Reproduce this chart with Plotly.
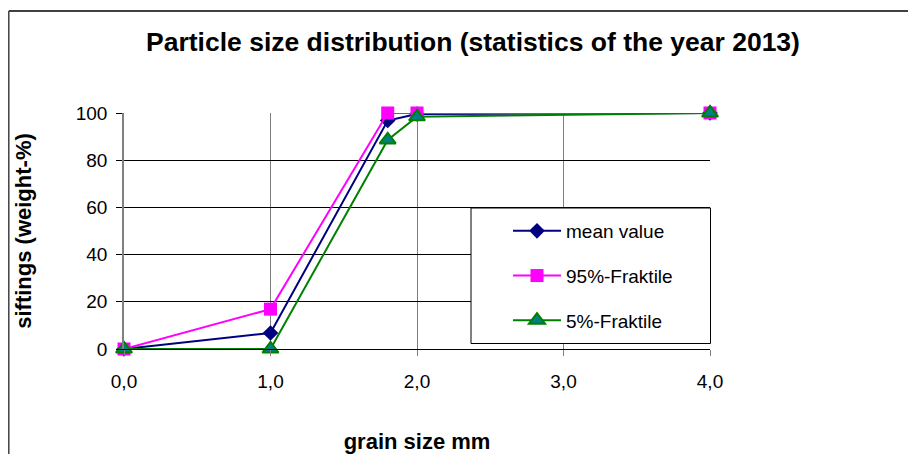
import plotly.graph_objects as go

# ---- data ----
grain_size = [0.0, 1.0, 1.8, 2.0, 4.0]
mean_value = [0.0, 6.8, 96.8, 99.6, 100.0]
fraktile_95 = [0.0, 16.9, 100.0, 100.0, 100.0]
fraktile_5 = [0.0, 0.0, 88.6, 98.4, 100.0]
x_tick_vals = [0, 1, 2, 3, 4]
x_tick_text = ["0,0", "1,0", "2,0", "3,0", "4,0"]
y_tick_vals = [0, 20, 40, 60, 80, 100]

# the page body has an 8px margin, so the figure is laid out in
# reference-pixel coordinates minus that offset
OFF = 8
W, H = 916 - OFF, 454 - OFF
ML, MR, MT, MB = 116, 206, 105, 105
PW, PH = W - ML - MR, H - MT - MB
FONT = "Liberation Sans, Arial, sans-serif"


def px_x(px):
    return (px - OFF - ML) / PW


def px_y(py):
    return (H - MB - (py - OFF)) / PH


fig = go.Figure()
fig.add_trace(go.Scatter(
    x=grain_size, y=mean_value, name="mean value", mode="lines+markers",
    line=dict(color="#000080", width=2),
    marker=dict(symbol="diamond", size=12, color="#000080"),
    legendgroup="a", cliponaxis=False))
fig.add_trace(go.Scatter(
    x=grain_size, y=fraktile_95, name="95%-Fraktile", mode="lines+markers",
    line=dict(color="#FF00FF", width=2),
    marker=dict(symbol="square", size=13, color="#FF00FF"),
    legendgroup="b", cliponaxis=False))
fig.add_trace(go.Scatter(
    x=grain_size, y=fraktile_5, name="5%-Fraktile", mode="lines+markers",
    line=dict(color="#008000", width=2),
    marker=dict(symbol="triangle-up", size=14, color="#008080",
                line=dict(color="#008000", width=2)),
    legendgroup="c", cliponaxis=False))

shapes = [
    # outer frame lines
    dict(type="line", xref="paper", yref="paper", x0=px_x(8.8), x1=px_x(916),
         y0=px_y(11), y1=px_y(11), line=dict(color="#404040", width=2), layer="above"),
    dict(type="line", xref="paper", yref="paper", x0=px_x(8.8), x1=px_x(8.8),
         y0=px_y(11), y1=px_y(454), line=dict(color="#404040", width=1.5), layer="above"),
    # legend box
    dict(type="rect", xref="paper", yref="paper", x0=px_x(471), x1=px_x(710.5),
         y0=px_y(343.5), y1=px_y(208), line=dict(color="black", width=1),
         fillcolor="white", layer="above"),
]

fig.update_layout(
    width=W, height=H,
    margin=dict(l=ML, r=MR, t=MT, b=MB, autoexpand=False),
    paper_bgcolor="white", plot_bgcolor="white",
    font=dict(family=FONT, color="black", size=19),
    title=dict(text="<b>Particle size distribution (statistics of the year 2013)</b>",
               x=(473 - OFF) / W, xanchor="center", xref="container",
               y=1 - (42 - OFF) / H, yanchor="middle", yref="container",
               font=dict(size=26.5, family=FONT, color="black")),
    showlegend=True,
    legend=dict(x=px_x(508), y=px_y(212), xanchor="left", yanchor="top",
                bgcolor="rgba(0,0,0,0)", borderwidth=0,
                font=dict(size=19, family=FONT, color="black"),
                tracegroupgap=17, itemwidth=48),
    shapes=shapes,
    xaxis=dict(range=[0, 4], tickvals=x_tick_vals, ticktext=x_tick_text,
               automargin=False,
               showgrid=True, gridcolor="#808080", gridwidth=1.3,
               showline=True, linecolor="black", linewidth=1,
               ticks="outside", ticklen=6, tickcolor="#808080",
               ticklabelstandoff=9,
               zeroline=False, tickfont=dict(size=19),
               title=dict(text="<b>grain size mm</b>", font=dict(size=22), standoff=42)),
    yaxis=dict(range=[0, 100], tickvals=y_tick_vals,
               automargin=False,
               showgrid=True, gridcolor="black", gridwidth=1,
               showline=True, linecolor="#808080", linewidth=1.5,
               ticks="outside", ticklen=6, tickcolor="black",
               ticklabelstandoff=5,
               zeroline=False, tickfont=dict(size=19),
               title=dict(text="<b>siftings (weight-%)</b>", font=dict(size=22), standoff=38)),
)

fig.write_html("out.html")
